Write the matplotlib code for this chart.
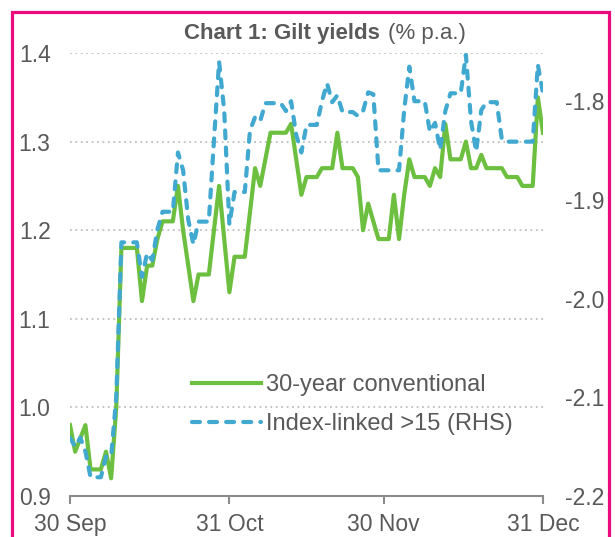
import matplotlib
matplotlib.use("Agg")
import matplotlib.pyplot as plt
import pandas as pd
from matplotlib.patches import Rectangle

plt.rcParams["font.family"] = ["Liberation Sans", "DejaVu Sans"]

GREEN = "#6CBF3F"
BLUE = "#41A8D0"
GRAY = "#595959"
GRID = "#BFBFBF"
AXIS = "#8C8C8C"
PINK = "#EA0A7D"

# daily values (weekends carry the previous close)
days = pd.date_range("2019-09-30", "2019-12-31", freq="D")
conv_30y = [
    0.98, 0.95, 0.965, 0.98, 0.93, 0.93, 0.93, 0.95, 0.92, 1.00,
    1.18, 1.18, 1.18, 1.18, 1.12, 1.16, 1.16, 1.19, 1.21, 1.21,
    1.21, 1.25, 1.20, 1.16, 1.12, 1.15, 1.15, 1.15, 1.20, 1.25,
    1.19, 1.13, 1.17, 1.17, 1.17, 1.22, 1.27, 1.25, 1.28, 1.31,
    1.31, 1.31, 1.31, 1.32, 1.28, 1.24, 1.26, 1.26, 1.26, 1.27,
    1.27, 1.27, 1.31, 1.27, 1.27, 1.27, 1.26, 1.20, 1.23, 1.21,
    1.19, 1.19, 1.19, 1.24, 1.19, 1.24, 1.28, 1.26, 1.26, 1.26,
    1.25, 1.27, 1.26, 1.32, 1.28, 1.28, 1.28, 1.30, 1.27, 1.27,
    1.285, 1.27, 1.27, 1.27, 1.27, 1.26, 1.26, 1.26, 1.25, 1.25,
    1.25, 1.35, 1.31,
]
linked_15 = [
    -2.141, -2.150, -2.141, -2.155, -2.181, -2.181, -2.181, -2.160, -2.160, -2.100,
    -1.943, -1.943, -1.943, -1.943, -1.978, -1.954, -1.961, -1.930, -1.912, -1.912,
    -1.912, -1.852, -1.870, -1.920, -1.945, -1.922, -1.922, -1.922, -1.840, -1.760,
    -1.810, -1.925, -1.892, -1.892, -1.892, -1.830, -1.816, -1.820, -1.802, -1.802,
    -1.802, -1.802, -1.810, -1.800, -1.834, -1.852, -1.824, -1.824, -1.824, -1.800,
    -1.782, -1.801, -1.794, -1.811, -1.811, -1.811, -1.815, -1.810, -1.791, -1.793,
    -1.870, -1.870, -1.870, -1.870, -1.870, -1.809, -1.765, -1.800, -1.800, -1.800,
    -1.831, -1.822, -1.849, -1.810, -1.792, -1.792, -1.792, -1.753, -1.820, -1.851,
    -1.809, -1.801, -1.801, -1.801, -1.839, -1.841, -1.841, -1.841, -1.841, -1.841,
    -1.841, -1.763, -1.792,
]
labels = ["30-year conventional", "Index-linked >15 (RHS)"]
tick_dates = pd.to_datetime(["2019-09-30", "2019-10-31", "2019-11-30", "2019-12-31"])
tick_labels = ["30 Sep", "31 Oct", "30 Nov", "31 Dec"]
left_ticks = [0.9, 1.0, 1.1, 1.2, 1.3, 1.4]
right_ticks = [-2.2, -2.1, -2.0, -1.9, -1.8]

fig = plt.figure(figsize=(6.15, 5.37), dpi=100)
fig.patch.set_facecolor("white")
ax = fig.add_axes([70 / 615, 1 - 496 / 537, 473 / 615, 443 / 537])
ax2 = ax.twinx()

ln1, = ax.plot(days, conv_30y, color=GREEN, lw=3, solid_joinstyle="round", zorder=3)
ln2, = ax2.plot(days, linked_15, color=BLUE, lw=3, ls=(0, (1.9, 2.2)),
                dash_capstyle="round", zorder=3)

ax.set_xlim(days[0], days[-1])
ax.set_ylim(0.9, 1.4)
ax2.set_ylim(-2.2, -2.2 + 443 / 987)

ax.set_yticks(left_ticks)
ax.set_yticklabels([f"{v:.1f}" for v in left_ticks])
ax2.set_yticks(right_ticks)
ax2.set_yticklabels([f"{v:.1f}" for v in right_ticks])
ax.set_xticks(tick_dates)
ax.set_xticklabels(tick_labels)

ax.grid(axis="y", color=GRID, lw=1.3, ls=(0, (1, 2)))
ax.set_axisbelow(True)

for a in (ax, ax2):
    for s in a.spines.values():
        s.set_visible(False)
ax.spines["bottom"].set_visible(True)
ax.spines["bottom"].set_color(AXIS)
ax.spines["bottom"].set_linewidth(1.5)

ax.tick_params(axis="x", direction="out", length=6, width=1.5, color=AXIS,
               labelsize=16.5, labelcolor=GRAY, pad=6)
ax.tick_params(axis="y", length=0, labelsize=16.5, labelcolor=GRAY, pad=14)
ax2.tick_params(axis="y", length=0, labelsize=16.5, labelcolor=GRAY, pad=16)

ax2.legend([ln1, ln2], labels, loc="center left", bbox_to_anchor=(0.258, 0.2065),
           frameon=False, fontsize=17, labelcolor=GRAY, handlelength=2.9,
           handletextpad=0.25, labelspacing=0.7, borderpad=0, borderaxespad=0)

# title: bold part + plain unit
fig.text(380 / 615, 1 - 33 / 537, "Chart 1: Gilt yields", fontsize=16,
         fontweight="bold", color=GRAY, ha="right", va="center")
fig.text(388 / 615, 1 - 33 / 537, "(% p.a.)", fontsize=16, color=GRAY,
         ha="left", va="center")

# pink frame, bottom edge runs off the picture
fig.add_artist(Rectangle((12 / 615, -0.1), 597 / 615, 1.1 - 12 / 537,
                         transform=fig.transFigure, fill=False, ec=PINK,
                         lw=2.3, clip_on=False))

fig.savefig("out.png", dpi=100)
